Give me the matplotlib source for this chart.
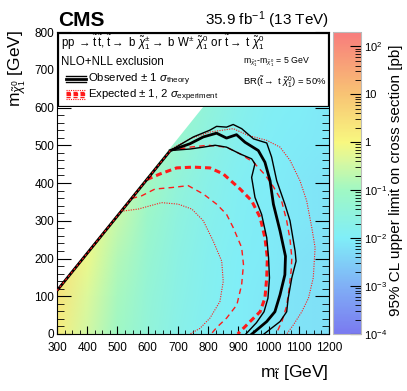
import numpy as np
import matplotlib
matplotlib.use("Agg")
import matplotlib.pyplot as plt
from matplotlib.colors import LinearSegmentedColormap, LogNorm
from matplotlib.patches import Polygon, Rectangle
from matplotlib.ticker import MultipleLocator, LogLocator

plt.rcParams["font.family"] = ["Liberation Sans", "DejaVu Sans"]
plt.rcParams["mathtext.fontset"] = "custom"
plt.rcParams["mathtext.rm"] = "Liberation Sans"
plt.rcParams["mathtext.it"] = "Liberation Sans:italic"
plt.rcParams["mathtext.bf"] = "Liberation Sans:bold"

# ── Data ──────────────────────────────────────────────────────────────────────
# cross-section upper limit [pb] on a coarse (m_stop, m_lsp) grid
grid_stop = [300, 400, 500, 600, 700, 800, 900, 1000, 1100, 1200]
grid_lsp = [0, 100, 200, 300, 400, 500, 600, 700]
xsec_limit = [
    [1.5, 0.35, 0.10, 0.040, 0.020, 0.013, 0.010, 0.008, 0.007, 0.006],
    [2.5, 0.45, 0.12, 0.045, 0.022, 0.014, 0.010, 0.008, 0.007, 0.006],
    [3.0, 0.70, 0.16, 0.055, 0.025, 0.015, 0.011, 0.009, 0.007, 0.006],
    [3.0, 0.90, 0.25, 0.075, 0.030, 0.017, 0.012, 0.009, 0.008, 0.007],
    [3.0, 1.00, 0.35, 0.110, 0.040, 0.020, 0.013, 0.010, 0.008, 0.007],
    [3.0, 1.00, 0.40, 0.150, 0.060, 0.026, 0.015, 0.011, 0.009, 0.008],
    [3.0, 1.00, 0.40, 0.200, 0.080, 0.035, 0.018, 0.012, 0.010, 0.008],
    [3.0, 1.00, 0.40, 0.200, 0.100, 0.045, 0.022, 0.014, 0.011, 0.009],
]
dm_region = 182          # kinematic edge of the scanned region: m_lsp <= m_stop - dm
diag_stop = [300, 675]
diag_lsp = [115, 486]

obs_stop = [675, 740, 784, 828, 861, 894, 922, 966, 988, 1005, 1016, 1038, 1056, 1054, 1038, 1021, 994, 945]
obs_lsp = [486, 504, 522, 532, 519, 528, 508, 486, 455, 406, 344, 273, 206, 157, 104, 59, 33, 0]

obs_up_stop = [675, 751, 806, 828, 861, 883, 911, 950, 994, 1010, 1027, 1054, 1071, 1088, 1091, 1077, 1065, 1060, 1038, 985]
obs_up_lsp = [486, 522, 540, 550, 548, 555, 544, 517, 506, 469, 406, 344, 300, 219, 193, 149, 95, 59, 33, 0]

obs_dn_stop = [675, 740, 784, 823, 861, 906, 944, 955, 944, 955, 977, 994, 1000, 1003, 998, 985, 960, 925]
obs_dn_lsp = [486, 490, 495, 500, 495, 477, 464, 451, 415, 362, 317, 255, 202, 149, 95, 59, 30, 0]

exp_stop = [597, 641, 696, 751, 806, 850, 906, 944, 972, 988, 996, 994, 988, 972, 939, 898]
exp_lsp = [409, 424, 440, 442, 440, 424, 384, 353, 309, 255, 202, 149, 95, 59, 33, 0]

exp_up_stop = [675, 740, 800, 860, 906, 950, 990, 1016, 1043, 1060, 1071, 1077, 1075, 1068, 1060, 1045, 1025]
exp_up_lsp = [486, 495, 500, 495, 477, 455, 420, 390, 353, 300, 251, 202, 170, 120, 75, 35, 0]

exp_dn_stop = [547, 580, 624, 680, 734, 784, 828, 861, 883, 911, 917, 911, 895, 861, 828, 810]
exp_dn_lsp = [359, 366, 384, 388, 393, 371, 344, 317, 282, 229, 184, 131, 77, 42, 17, 0]

exp_dn2_stop = [512, 569, 646, 701, 746, 784, 817, 845, 850, 839, 806, 773, 740]
exp_dn2_lsp = [325, 331, 348, 344, 331, 300, 246, 193, 139, 86, 42, 15, 0]

exp_up2_stop = [680, 740, 806, 883, 933, 994, 1038, 1071, 1104, 1126, 1143, 1154, 1148, 1132, 1110, 1082, 1060]
exp_up2_lsp = [491, 517, 535, 544, 526, 513, 495, 460, 406, 353, 282, 229, 149, 95, 59, 24, 0]

cbar_ticks = [1e-4, 1e-3, 1e-2, 1e-1, 1, 10, 100]
cbar_labels = ["10$^{-4}$", "10$^{-3}$", "10$^{-2}$", "10$^{-1}$", "1", "10", "10$^{2}$"]

# ── Figure ────────────────────────────────────────────────────────────────────
W, H = 407, 391
fig = plt.figure(figsize=(W / 100, H / 100), dpi=100)

def box(x0, y0, x1, y1):
    return [x0 / W, 1 - y1 / H, (x1 - x0) / W, (y1 - y0) / H]

ax = fig.add_axes(box(57, 32, 329, 334))

cmap = LinearSegmentedColormap.from_list("pastel_rainbow", [
    (0.00, "#7a7af0"),
    (1 / 6.3, "#80b0f6"),
    (2 / 6.3, "#80eef8"),
    (3 / 6.3, "#a0f8c4"),
    (3.6 / 6.3, "#d8f8a0"),
    (4 / 6.3, "#f8f880"),
    (5 / 6.3, "#f8c474"),
    (1.00, "#f87c7c"),
])
norm = LogNorm(vmin=1e-4, vmax=2e2)

img = ax.imshow(np.array(xsec_limit), origin="lower", cmap=cmap, norm=norm,
                extent=[250, 1250, -50, 750], interpolation="bilinear",
                interpolation_stage="rgba", aspect="auto", zorder=1)
x_lo, x_hi, y_top = 300, 1200, 800
clip = Polygon([(x_lo, x_lo - dm_region), (y_top + dm_region, y_top), (x_hi, y_top),
                (x_hi, 0), (x_lo, 0)], closed=True, transform=ax.transData)
img.set_clip_path(clip)

red = "#ff1a1a"
ax.plot(exp_up2_stop, exp_up2_lsp, color=red, lw=0.8, ls=(0, (1, 1.2)), zorder=3)
ax.plot(exp_dn2_stop, exp_dn2_lsp, color=red, lw=0.8, ls=(0, (1, 1.2)), zorder=3)
ax.plot(exp_up_stop, exp_up_lsp, color=red, lw=1.0, ls=(0, (4, 3)), zorder=3)
ax.plot(exp_dn_stop, exp_dn_lsp, color=red, lw=1.0, ls=(0, (4, 3)), zorder=3)
ax.plot(exp_stop, exp_lsp, color=red, lw=2.2, ls=(0, (2, 1.3)), zorder=3)
ax.plot(obs_up_stop, obs_up_lsp, color="black", lw=1.0, zorder=4)
ax.plot(obs_dn_stop, obs_dn_lsp, color="black", lw=1.0, zorder=4)
ax.plot(obs_stop, obs_lsp, color="black", lw=2.0, zorder=4)
ax.plot(diag_stop, diag_lsp, color="black", lw=2.0, zorder=4, solid_capstyle="butt")
ax.plot(diag_stop, diag_lsp, color=red, lw=0.8, ls=(0, (2, 2)), zorder=5)

ax.set_xlim(300, 1200)
ax.set_ylim(0, 800)
ax.xaxis.set_major_locator(MultipleLocator(100))
ax.xaxis.set_minor_locator(MultipleLocator(25))
ax.yaxis.set_major_locator(MultipleLocator(100))
ax.yaxis.set_minor_locator(MultipleLocator(20))
ax.tick_params(which="both", direction="in", top=False, right=True, labelsize=8.5)
ax.tick_params(axis="x", which="major", length=6, pad=6)
ax.tick_params(axis="x", which="minor", length=3)
ax.tick_params(axis="y", which="major", length=10, pad=2)
ax.tick_params(axis="y", which="minor", length=5)

fig.text(329 / W, 1 - 377 / H, r"m$_{\tilde{\mathrm{t}}}$ [GeV]", ha="right", va="baseline", fontsize=12.5)
fig.text(6 / W, 1 - 30 / H, r"m$_{\tilde{\chi}^{0}_{1}}$ [GeV]", ha="left", va="top", rotation=90, fontsize=12.5)
fig.text(58 / W, 1 - 26 / H, "CMS", ha="left", va="baseline", fontsize=15, fontweight="bold")
fig.text(329 / W, 1 - 25 / H, "35.9 fb$^{-1}$ (13 TeV)", ha="right", va="baseline", fontsize=11)

# ── Legend box ────────────────────────────────────────────────────────────────
lg = fig.add_axes(box(57, 32, 329, 107))
lg.set_xlim(57, 329)
lg.set_ylim(107, 32)
lg.axis("off")
lg.add_patch(Rectangle((57.5, 32.5), 271, 74, facecolor="white", edgecolor="black", lw=1.6))
lg.text(61, 47, r"pp $\rightarrow\tilde{\mathrm{t}}\,\tilde{\mathrm{t}}$, $\tilde{\mathrm{t}}\rightarrow$ b $\tilde{\chi}^{\pm}_{1}\rightarrow$ b W$^{\pm}$ $\tilde{\chi}^{0}_{1}$ or $\tilde{\mathrm{t}}\rightarrow$ t $\tilde{\chi}^{0}_{1}$",
        fontsize=8.3, va="baseline")
lg.text(61, 65, "NLO+NLL exclusion", fontsize=8.3, va="baseline")
lg.text(243, 64, r"m$_{\tilde{\chi}^{\pm}_{1}}$-m$_{\tilde{\chi}^{0}_{1}}$ = 5 GeV", fontsize=6.3, va="baseline")
lg.text(243, 85, r"BR($\tilde{\mathrm{t}}\rightarrow$ t $\tilde{\chi}^{0}_{1}$) = 50%", fontsize=6.8, va="baseline")
lg.plot([66, 86], [76, 76], color="black", lw=1.0)
lg.plot([66, 86], [79, 79], color="black", lw=2.0)
lg.plot([66, 86], [82, 82], color="black", lw=1.0)
lg.text(88, 82, r"Observed $\pm$ 1 $\sigma_{\mathrm{theory}}$", fontsize=8.2, va="baseline")
lg.plot([66, 86], [89.5, 89.5], color=red, lw=0.8, ls=(0, (1, 1)))
lg.plot([66, 86], [91.5, 91.5], color=red, lw=1.0, ls=(0, (3, 2)))
lg.plot([66, 86], [94, 94], color=red, lw=2.2, ls=(0, (1.5, 0.8)))
lg.plot([66, 86], [96.5, 96.5], color=red, lw=1.0, ls=(0, (3, 2)))
lg.plot([66, 86], [98.5, 98.5], color=red, lw=0.8, ls=(0, (1, 1)))
lg.text(88, 98.5, r"Expected $\pm$ 1, 2 $\sigma_{\mathrm{experiment}}$", fontsize=8.2, va="baseline")

# ── Colour bar ────────────────────────────────────────────────────────────────
cax = fig.add_axes(box(333, 32, 361, 334))
cb = fig.colorbar(img, cax=cax)
cb.outline.set_edgecolor("#bbbbbb")
cb.outline.set_linewidth(0.8)
cb.set_ticks(cbar_ticks)
cb.set_ticklabels(cbar_labels)
cax.yaxis.set_minor_locator(LogLocator(base=10, subs=np.arange(2, 10)))
cax.tick_params(which="both", direction="in", right=True, left=False, labelsize=8, pad=2)
cax.tick_params(which="major", length=8)
cax.tick_params(which="minor", length=4)
fig.text(396 / W, 1 - 180 / H, "95% CL upper limit on cross section [pb]", rotation=90,
         ha="center", va="center", fontsize=11)

fig.savefig("out.png", dpi=100)
